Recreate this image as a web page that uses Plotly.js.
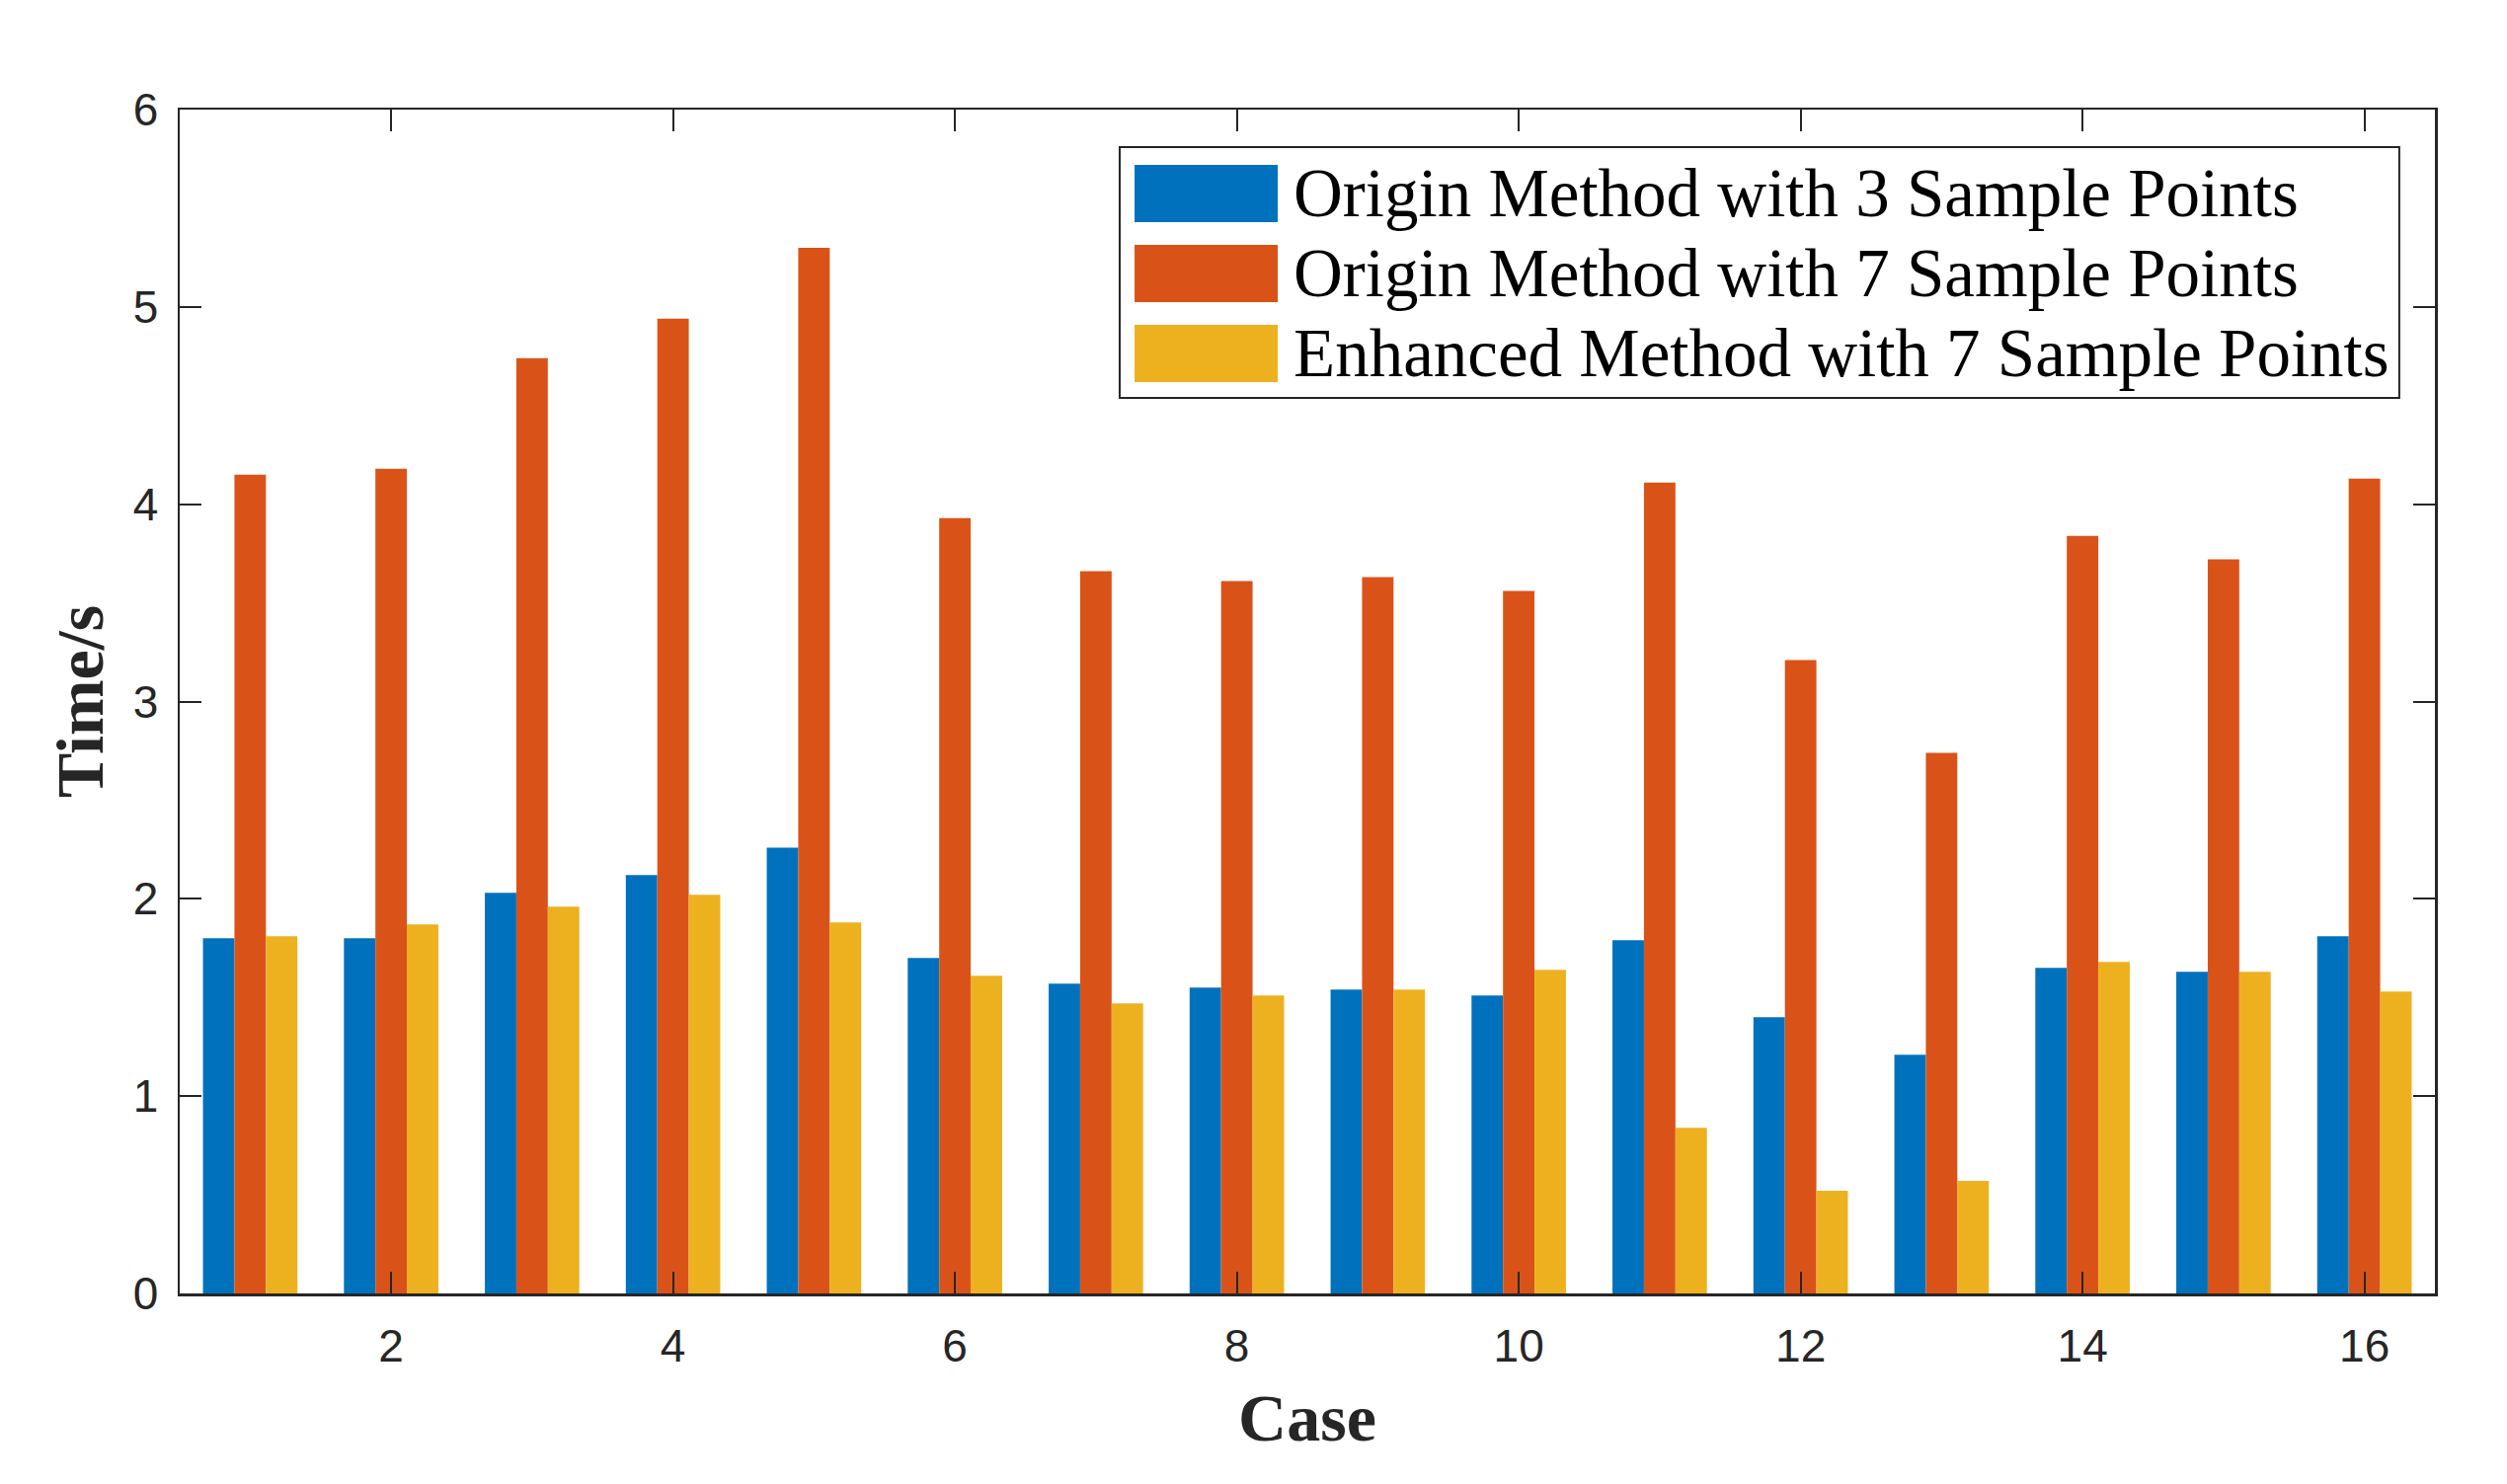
<!DOCTYPE html>
<html>
<head>
<meta charset="utf-8">
<script src="https://cdn.plot.ly/plotly-3.0.1.min.js"></script>
<style>html,body{margin:0;padding:0;background:#fff;}#chart{width:2539px;height:1503px;}</style>
</head>
<body>
<div id="chart"></div>
<script>
const cases = [1,2,3,4,5,6,7,8,9,10,11,12,13,14,15,16];
const origin3 = [1.80,1.80,2.03,2.12,2.26,1.70,1.57,1.55,1.54,1.51,1.79,1.40,1.21,1.65,1.63,1.81];
const origin7 = [4.15,4.18,4.74,4.94,5.30,3.93,3.66,3.61,3.63,3.56,4.11,3.21,2.74,3.84,3.72,4.13];
const enhanced7 = [1.81,1.87,1.96,2.02,1.88,1.61,1.47,1.51,1.54,1.64,0.84,0.52,0.57,1.68,1.63,1.53];
const seriesNames = ['Origin Method with 3 Sample Points','Origin Method with 7 Sample Points','Enhanced Method with 7 Sample Points'];
const seriesColors = ['#0072BD','#D95319','#EDB120'];
const xTicks = [2,4,6,8,10,12,14,16];
const yTicks = [0,1,2,3,4,5,6];

const seriesValues = [origin3, origin7, enhanced7];
const traces = seriesValues.map((vals, i) => ({
  type: 'bar', x: cases, y: vals, name: seriesNames[i],
  marker: {color: seriesColors[i], line: {width: 0}},
  hoverinfo: 'x+y'
}));

const axisColor = '#262626';
const tickFont = {family: 'Liberation Sans, Arial, sans-serif', size: 46, color: axisColor};
const titleFont = {family: 'Liberation Serif, Times New Roman, serif', size: 68, color: axisColor, weight: 'bold'};

// manual legend (paper coordinates)
const legBox = {x0: 0.4168, x1: 0.9842, y0: 0.7565, y1: 0.9683};
const rowCenters = [0.9291, 0.8616, 0.794];
const swH = 0.0484;
const shapes = [{type: 'rect', xref: 'paper', yref: 'paper', x0: legBox.x0, x1: legBox.x1, y0: legBox.y0, y1: legBox.y1,
  fillcolor: '#ffffff', line: {color: axisColor, width: 2}, layer: 'above'}];
const annotations = [];
seriesNames.forEach((n, i) => {
  shapes.push({type: 'rect', xref: 'paper', yref: 'paper', x0: 0.4234, x1: 0.4869,
    y0: rowCenters[i] - swH/2, y1: rowCenters[i] + swH/2, fillcolor: seriesColors[i], line: {width: 0}, layer: 'above'});
  annotations.push({xref: 'paper', yref: 'paper', x: 0.4930, y: rowCenters[i], xanchor: 'left', yanchor: 'middle',
    text: n, showarrow: false, font: {family: 'Liberation Serif, Times New Roman, serif', size: 69, color: '#000000'}});
});

const layout = {
  width: 2539, height: 1503,
  margin: {l: 182, r: 73, t: 111, b: 193},
  paper_bgcolor: '#ffffff', plot_bgcolor: '#ffffff',
  barmode: 'group', bargap: 0.33, bargroupgap: 0,
  showlegend: false,
  xaxis: {
    range: [0.5, 16.5], tickvals: xTicks, ticktext: xTicks.map(String),
    ticks: 'inside', ticklen: 22, tickwidth: 2, tickcolor: axisColor,
    showline: true, linecolor: axisColor, linewidth: 2.5, mirror: 'ticks',
    showgrid: false, zeroline: false, tickfont: tickFont, ticklabelstandoff: 11,
    title: {text: 'Case', font: titleFont, standoff: 24}
  },
  yaxis: {
    range: [0, 6], tickvals: yTicks, ticktext: yTicks.map(String),
    ticks: 'inside', ticklen: 22, tickwidth: 2, tickcolor: axisColor,
    showline: true, linecolor: axisColor, linewidth: 2.5, mirror: 'ticks',
    showgrid: false, zeroline: false, tickfont: tickFont, ticklabelstandoff: 10,
    title: {text: 'Time/s', font: titleFont, standoff: 8}
  },
  shapes: shapes,
  annotations: annotations
};

Plotly.newPlot('chart', traces, layout, {displayModeBar: false, staticPlot: true});
</script>
</body>
</html>
